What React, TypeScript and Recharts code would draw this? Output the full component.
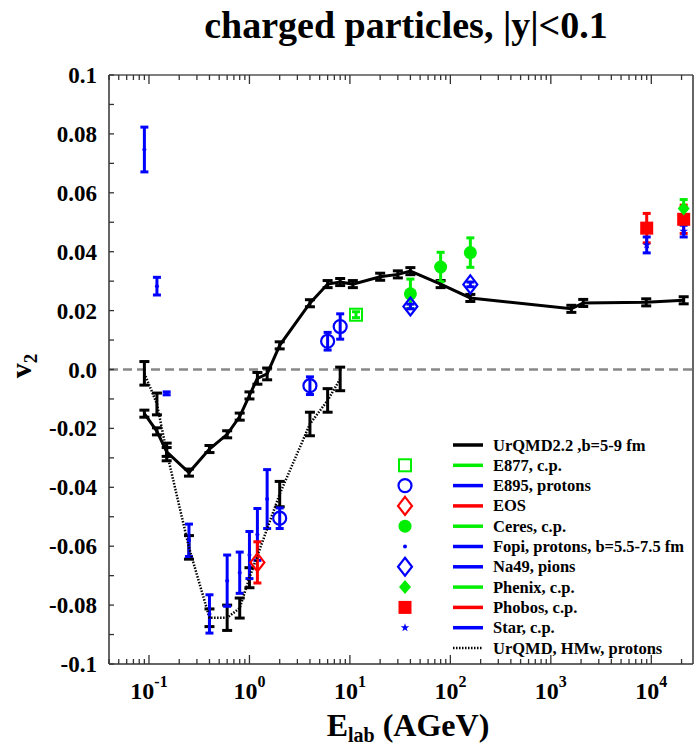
import React from 'react';
import { ComposedChart, Scatter, XAxis, YAxis, ErrorBar, ReferenceLine } from 'recharts';

const FONT = '"Liberation Serif", "DejaVu Serif", serif';
const BLUE = '#0000ff';
const GREEN = '#00ee00';
const RED = '#ff0000';

// UrQMD2.2, b=5-9 fm (solid line)
const urqmdE = [0.09, 0.12, 0.15, 0.25, 0.4, 0.6, 0.8, 1.0, 1.2, 1.5, 2.0, 4, 6, 8, 10.7, 20, 30, 40, 80, 158, 1600, 2100, 8900, 21000];
const urqmdV2 = [-0.015, -0.021, -0.028, -0.035, -0.027, -0.022, -0.016, -0.0088, -0.003, -0.0015, 0.0082, 0.0225, 0.029, 0.0297, 0.029, 0.0315, 0.0323, 0.0334, 0.029, 0.0243, 0.0206, 0.0226, 0.0228, 0.0235];
const urqmdErr = [0.0012, 0.0012, 0.0015, 0.0012, 0.0012, 0.0012, 0.0012, 0.0012, 0.002, 0.002, 0.0012, 0.0012, 0.0012, 0.0012, 0.0012, 0.0012, 0.0012, 0.0012, 0.0012, 0.0012, 0.0012, 0.0012, 0.0012, 0.0012];

// UrQMD, HMw, protons (dotted line)
const hmwE = [0.09, 0.12, 0.15, 0.25, 0.4, 0.6, 0.8, 1.0, 2.0, 4, 6, 8];
const hmwV2 = [-0.0013, -0.0117, -0.028, -0.0604, -0.0843, -0.0843, -0.081, -0.0707, -0.0423, -0.0185, -0.0105, -0.0032];
const hmwErr = [0.004, 0.0037, 0.003, 0.004, 0.003, 0.0043, 0.0034, 0.0034, 0.0043, 0.004, 0.004, 0.004];

// Fopi, protons
const fopiE = [0.09, 0.12, 0.15, 0.25, 0.4, 0.6, 0.8, 1.0, 1.2, 1.5];
const fopiV2 = [0.0747, 0.0283, -0.0081, -0.058, -0.083, -0.0717, -0.069, -0.063, -0.056, -0.044];
const fopiErr = [0.0076, 0.003, 0.0005, 0.0055, 0.0065, 0.0087, 0.007, 0.008, 0.0088, 0.01];

// E895, protons
const e895E = [2, 4, 6, 8];
const e895V2 = [-0.0505, -0.0055, 0.0096, 0.0146];
const e895Err = [0.0035, 0.003, 0.003, 0.0043];

// E877, c.p.
const e877E = [11.5];
const e877V2 = [0.0186];
const e877Err = [0.001];

// EOS
const eosE = [1.2];
const eosV2 = [-0.0655];
const eosErr = [0.007];

// Ceres, c.p.
const ceresE = [40, 80, 158];
const ceresV2 = [0.0257, 0.0348, 0.0397];
const ceresErr = [0.005, 0.005, 0.005];

// Na49, pions
const na49E = [40, 158];
const na49V2 = [0.0214, 0.0289];
const na49Err = [0.0008, 0.0008];

// Phenix, c.p.
const phenixE = [21000];
const phenixV2 = [0.0547];
const phenixErr = [0.003];

// Phobos, c.p.
const phobosE = [9000, 21000];
const phobosV2 = [0.048, 0.051];
const phobosErr = [0.005, 0.0048];

// Star, c.p.
const starE = [9000, 21000];
const starV2 = [0.0423, 0.047];
const starErr = [0.0027, 0.002];

const decades = [0.1, 1, 10, 100, 1000, 10000];
const decadeLabels = ['-1', '0', '1', '2', '3', '4'];
const yTicks = [-0.1, -0.09, -0.08, -0.07, -0.06, -0.05, -0.04, -0.03, -0.02, -0.01, 0, 0.01, 0.02, 0.03, 0.04, 0.05, 0.06, 0.07, 0.08, 0.09, 0.1];

const X_MIN = 0.04;
const X_MAX = 26000;

const zip = (e: number[], v: number[], s: number[]) => e.map((x, i) => ({ x, y: v[i], err: s[i] }));

const xTicks: number[] = [];
[0.01, ...decades].forEach((d) => {
  for (let m = 1; m <= 9; m++) {
    const v = d * m;
    if (v >= X_MIN && v <= X_MAX) xTicks.push(v);
  }
});

const isMajor = (v: number) => Math.abs(Math.log10(v) - Math.round(Math.log10(v))) < 1e-6;

function Marker({ kind, color, cx, cy }: { kind: string; color: string; cx: number; cy: number }) {
  switch (kind) {
    case 'openSquare':
      return <rect x={cx - 6} y={cy - 6} width={12} height={12} fill="none" stroke={color} strokeWidth={2} />;
    case 'openCircle':
      return <circle cx={cx} cy={cy} r={6.5} fill="none" stroke={color} strokeWidth={2.2} />;
    case 'openDiamond':
      return <polygon points={`${cx},${cy - 9} ${cx + 7},${cy} ${cx},${cy + 9} ${cx - 7},${cy}`} fill="none" stroke={color} strokeWidth={2.2} />;
    case 'filledCircle':
      return <circle cx={cx} cy={cy} r={6.5} fill={color} />;
    case 'dot':
      return <circle cx={cx} cy={cy} r={2} fill={color} />;
    case 'filledDiamond':
      return <polygon points={`${cx},${cy - 7} ${cx + 6},${cy} ${cx},${cy + 7} ${cx - 6},${cy}`} fill={color} />;
    case 'filledSquare':
      return <rect x={cx - 6.5} y={cy - 6.5} width={13} height={13} fill={color} />;
    case 'star': {
      const pts: string[] = [];
      for (let i = 0; i < 10; i++) {
        const r = i % 2 === 0 ? 4.5 : 1.8;
        const a = -Math.PI / 2 + (i * Math.PI) / 5;
        pts.push(`${cx + r * Math.cos(a)},${cy + r * Math.sin(a)}`);
      }
      return <polygon points={pts.join(' ')} fill={color} />;
    }
    default:
      return <g />;
  }
}

const legendItems = [
  { name: 'UrQMD2.2 ,b=5-9 fm', color: '#000', kind: 'none', dotted: false },
  { name: 'E877, c.p.', color: GREEN, kind: 'openSquare', dotted: false },
  { name: 'E895, protons', color: BLUE, kind: 'openCircle', dotted: false },
  { name: 'EOS', color: RED, kind: 'openDiamond', dotted: false },
  { name: 'Ceres, c.p.', color: GREEN, kind: 'filledCircle', dotted: false },
  { name: 'Fopi, protons, b=5.5-7.5 fm', color: BLUE, kind: 'dot', dotted: false },
  { name: 'Na49, pions', color: BLUE, kind: 'openDiamond', dotted: false },
  { name: 'Phenix, c.p.', color: GREEN, kind: 'filledDiamond', dotted: false },
  { name: 'Phobos, c.p.', color: RED, kind: 'filledSquare', dotted: false },
  { name: 'Star, c.p.', color: BLUE, kind: 'star', dotted: false },
  { name: 'UrQMD, HMw, protons', color: '#000', kind: 'none', dotted: true },
];

const XTick = ({ x, y, payload, top }: any) => {
  const v = payload.value;
  const major = isMajor(v);
  const len = major ? 9 : 5;
  const idx = decades.findIndex((d) => Math.abs(Math.log10(d) - Math.log10(v)) < 1e-6);
  return (
    <g>
      <line x1={x} x2={x} y1={y} y2={top ? y + len : y - len} stroke="#333" strokeWidth={1.3} />
      {!top && major && idx >= 0 && (
        <text x={x} y={y + 35} textAnchor="middle" fontFamily={FONT} fontWeight="bold" fontSize={24} fill="#000">
          10<tspan dy={-12} fontSize={16}>{decadeLabels[idx]}</tspan>
        </text>
      )}
    </g>
  );
};

const YTick = ({ x, y, payload, right }: any) => {
  const v = payload.value;
  const labeled = Math.round(v * 100) % 2 === 0;
  return (
    <g>
      <line x1={x} x2={right ? x - 5 : x + 5} y1={y} y2={y} stroke="#333" strokeWidth={1.3} />
      {!right && labeled && (
        <text x={x - 12} y={y} dy="0.35em" textAnchor="end" fontFamily={FONT} fontWeight="bold" fontSize={23} fill="#000">
          {v === 0 ? '0.0' : String(v)}
        </text>
      )}
    </g>
  );
};

const shapeOf = (kind: string, color: string) => (p: any) => <Marker kind={kind} color={color} cx={p.cx} cy={p.cy} />;

export default function App() {
  return (
    <div style={{ position: 'absolute', left: 0, top: 0, width: 694, height: 746, background: '#fff' }}>
      <ComposedChart width={694} height={746} margin={{ top: 74, right: 0, bottom: 81, left: 0 }}>
        <XAxis dataKey="x" type="number" scale="log" domain={[X_MIN, X_MAX]} allowDataOverflow ticks={xTicks} interval={0} height={1}
          tickSize={0} tickMargin={0} tickLine={false} axisLine={{ stroke: '#333', strokeWidth: 1.5 }} tick={<XTick />} />
        <XAxis xAxisId="top" orientation="top" dataKey="x" type="number" scale="log" domain={[X_MIN, X_MAX]} allowDataOverflow ticks={xTicks} interval={0}
          tickSize={0} tickMargin={0} tickLine={false} height={1} axisLine={{ stroke: '#555', strokeWidth: 1.5 }} tick={<XTick top />} />
        <YAxis dataKey="y" type="number" domain={[-0.1, 0.1]} allowDataOverflow ticks={yTicks} interval={0} width={109}
          tickSize={0} tickMargin={0} tickLine={false} axisLine={{ stroke: '#333', strokeWidth: 1.5 }} tick={<YTick />} />
        <YAxis yAxisId="right" orientation="right" type="number" domain={[-0.1, 0.1]} ticks={yTicks} interval={0} width={1}
          tickSize={0} tickMargin={0} tickLine={false} axisLine={{ stroke: '#333', strokeWidth: 1.5 }} tick={<YTick right />} />
        <ReferenceLine y={0} stroke="#888" strokeWidth={2.5} strokeDasharray="9 5" />

        <Scatter name="UrQMD, HMw, protons" data={zip(hmwE, hmwV2, hmwErr)} isAnimationActive={false}
          line={{ stroke: '#000', strokeWidth: 2.5, strokeDasharray: '1.5 1.5' }} lineType="joint" shape={() => <g />}>
          <ErrorBar dataKey="err" direction="y" width={5} strokeWidth={3} stroke="#000" />
        </Scatter>
        <Scatter name="UrQMD2.2 ,b=5-9 fm" data={zip(urqmdE, urqmdV2, urqmdErr)} isAnimationActive={false}
          line={{ stroke: '#000', strokeWidth: 3 }} lineType="joint" shape={() => <g />}>
          <ErrorBar dataKey="err" direction="y" width={5} strokeWidth={3} stroke="#000" />
        </Scatter>
        <Scatter name="Fopi, protons, b=5.5-7.5 fm" data={zip(fopiE, fopiV2, fopiErr)} isAnimationActive={false} shape={shapeOf('dot', BLUE)}>
          <ErrorBar dataKey="err" direction="y" width={4} strokeWidth={3} stroke={BLUE} />
        </Scatter>
        <Scatter name="E895, protons" data={zip(e895E, e895V2, e895Err)} isAnimationActive={false} shape={shapeOf('openCircle', BLUE)}>
          <ErrorBar dataKey="err" direction="y" width={4} strokeWidth={3} stroke={BLUE} />
        </Scatter>
        <Scatter name="E877, c.p." data={zip(e877E, e877V2, e877Err)} isAnimationActive={false} shape={shapeOf('openSquare', GREEN)}>
          <ErrorBar dataKey="err" direction="y" width={4} strokeWidth={3} stroke={GREEN} />
        </Scatter>
        <Scatter name="EOS" data={zip(eosE, eosV2, eosErr)} isAnimationActive={false} shape={shapeOf('openDiamond', RED)}>
          <ErrorBar dataKey="err" direction="y" width={4} strokeWidth={3} stroke={RED} />
        </Scatter>
        <Scatter name="Ceres, c.p." data={zip(ceresE, ceresV2, ceresErr)} isAnimationActive={false} shape={shapeOf('filledCircle', GREEN)}>
          <ErrorBar dataKey="err" direction="y" width={4} strokeWidth={3} stroke={GREEN} />
        </Scatter>
        <Scatter name="Na49, pions" data={zip(na49E, na49V2, na49Err)} isAnimationActive={false} shape={shapeOf('openDiamond', BLUE)}>
          <ErrorBar dataKey="err" direction="y" width={4} strokeWidth={3} stroke={BLUE} />
        </Scatter>
        <Scatter name="Phobos, c.p." data={zip(phobosE, phobosV2, phobosErr)} isAnimationActive={false} shape={shapeOf('filledSquare', RED)}>
          <ErrorBar dataKey="err" direction="y" width={4} strokeWidth={3} stroke={RED} />
        </Scatter>
        <Scatter name="Star, c.p." data={zip(starE, starV2, starErr)} isAnimationActive={false} shape={shapeOf('star', BLUE)}>
          <ErrorBar dataKey="err" direction="y" width={4} strokeWidth={3} stroke={BLUE} />
        </Scatter>
        <Scatter name="Phenix, c.p." data={zip(phenixE, phenixV2, phenixErr)} isAnimationActive={false} shape={shapeOf('filledDiamond', GREEN)}>
          <ErrorBar dataKey="err" direction="y" width={4} strokeWidth={3} stroke={GREEN} />
        </Scatter>
      </ComposedChart>

      <svg width={694} height={746} style={{ position: 'absolute', left: 0, top: 0, pointerEvents: 'none' }}>
        <text x={406} y={38} textAnchor="middle" fontFamily={FONT} fontWeight="bold" fontSize={38} fill="#000">
          charged particles, |y|&lt;0.1
        </text>
        <text transform="translate(31,366) rotate(-90)" textAnchor="middle" fontFamily={FONT} fontWeight="bold" fontSize={30} fill="#000">
          v<tspan dy={6} fontSize={19}>2</tspan>
        </text>
        <text x={408} y={736} textAnchor="middle" fontFamily={FONT} fontWeight="bold" fontSize={32} fill="#000">
          E<tspan dy={6} fontSize={20}>lab</tspan><tspan dy={-6}> (AGeV)</tspan>
        </text>
        {legendItems.map((it, i) => {
          const cy = 445 + i * 20.3;
          return (
            <g key={it.name}>
              {it.kind !== 'none' && <Marker kind={it.kind} color={it.color} cx={405} cy={cy} />}
              <line x1={453} x2={483} y1={cy} y2={cy} stroke={it.color} strokeWidth={it.dotted ? 2.5 : 3.5}
                strokeDasharray={it.dotted ? '1.5 1.5' : undefined} />
              <text x={493} y={cy + 5.5} fontFamily={FONT} fontWeight="bold" fontSize={16.5} fill="#000">{it.name}</text>
            </g>
          );
        })}
      </svg>
    </div>
  );
}
